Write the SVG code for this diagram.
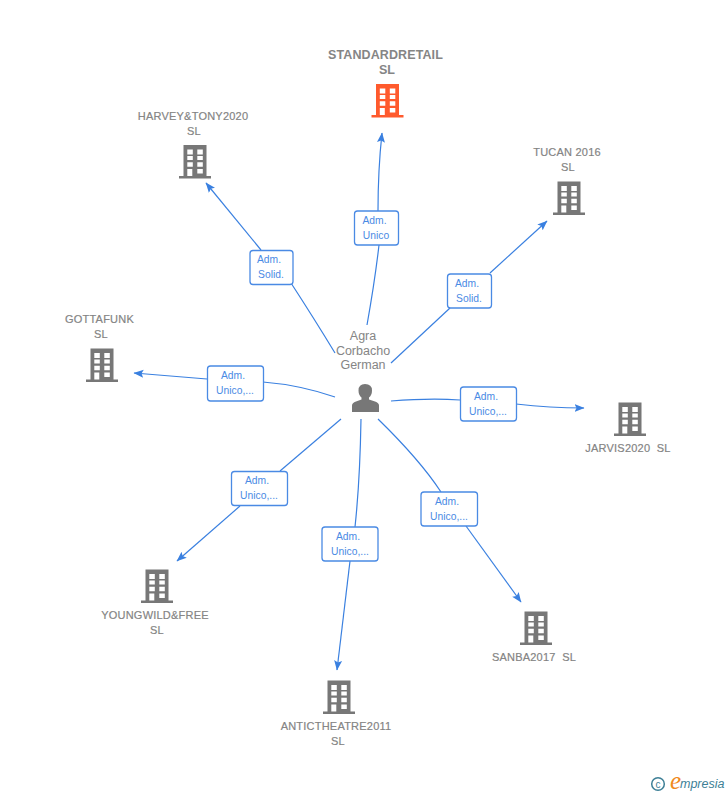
<svg xmlns="http://www.w3.org/2000/svg" width="728" height="795" viewBox="0 0 728 795">
<style>
text{font-family:"Liberation Sans",Arial,sans-serif}
.n{font-size:11px;fill:#808080;stroke:#8f8f8f;stroke-width:.2;letter-spacing:.22px;text-anchor:middle}
.h{font-size:12.500px;font-weight:bold;fill:#858585;letter-spacing:.1px;text-anchor:middle}
.p{font-size:12.500px;fill:#858585;text-anchor:middle}
.l{font-size:10.300px;fill:#4a8ae4;text-anchor:middle}
.b{fill:#fff;stroke:#4a8ae4;stroke-width:1.300}
.c{fill:none;stroke:#3a80e0;stroke-width:1.200}
.e{marker-end:url(#a)}
.w{fill:#fff}
</style>
<defs>
<marker id="a" markerWidth="11" markerHeight="9" refX="9.500" refY="4.500" orient="auto" markerUnits="userSpaceOnUse"><path d="M0 .5L10 4.500L0 8.500L2 4.500Z" fill="#3a80e0"/></marker>
<g id="bld">
<path d="M-11.500-16.500H11.500V14.500H16V17H-16V14.500H-11.500Z"/>
<path class="w" d="M-7.700-12h5.500v5h-5.500zM2.300-12h5.500v5h-5.500zM-7.700-5.500h5.500v4h-5.500zM2.300-5.500h5.500v4h-5.500zM-7.700 .8h5.500v4.400h-5.500zM2.300 .8h5.500v4.400h-5.500zM-7.700 7.500h5v7h-5zM2.300 7.500h5.500v4.500h-5.500z"/>
</g>
</defs>
<g id="connectors">
<path class="c e" d="M367 325Q375 280 379 245M378 211Q378 170 382 133"/>
<path class="c" d="M335 353Q315 320 291 283"/>
<path class="c e" d="M261 250L206 183"/>
<path class="c" d="M391 363L450 308"/>
<path class="c e" d="M490 273L547 221"/>
<path class="c" d="M335 397Q300 385 263 382"/>
<path class="c e" d="M207 379L134 373"/>
<path class="c" d="M391 401Q430 398 460 400"/>
<path class="c e" d="M516 404Q550 408 584 408"/>
<path class="c" d="M341 419L280 471"/>
<path class="c e" d="M240 506L177 561"/>
<path class="c" d="M361 419Q360 480 355 527"/>
<path class="c e" d="M350 561L337 670"/>
<path class="c" d="M378 419Q420 460 441 492"/>
<path class="c e" d="M466 526L521 602"/>
</g>
<g id="n-standardretail"><text class="h" x="385.500" y="59">STANDARDRETAIL</text><text class="h" x="387" y="74">SL</text><use href="#bld" x="387.500" y="100.500" fill="#ff5a2d"/></g>
<g id="n-harvey"><text class="n" x="193" y="120">HARVEY&amp;TONY2020</text><text class="n" x="194" y="135">SL</text><use href="#bld" x="195" y="161.500" fill="#777"/></g>
<g id="n-tucan"><text class="n" x="567" y="156">TUCAN 2016</text><text class="n" x="568" y="171">SL</text><use href="#bld" x="569" y="198" fill="#777"/></g>
<g id="n-gottafunk"><text class="n" x="99.500" y="323">GOTTAFUNK</text><text class="n" x="101" y="338">SL</text><use href="#bld" x="102" y="365" fill="#777"/></g>
<g id="n-jarvis"><use href="#bld" x="630" y="419" fill="#777"/><text class="n" x="628" y="452" xml:space="preserve">JARVIS2020  SL</text></g>
<g id="n-youngwild"><use href="#bld" x="157" y="586" fill="#777"/><text class="n" x="155" y="619">YOUNGWILD&amp;FREE</text><text class="n" x="157" y="634">SL</text></g>
<g id="n-antic"><use href="#bld" x="339" y="697" fill="#777"/><text class="n" x="336" y="730">ANTICTHEATRE2011</text><text class="n" x="338" y="745">SL</text></g>
<g id="n-sanba"><use href="#bld" x="536" y="628" fill="#777"/><text class="n" x="534" y="661" xml:space="preserve">SANBA2017  SL</text></g>
<g id="person"><text class="p" x="363" y="340">Agra</text><text class="p" x="363" y="354.500">Corbacho</text><text class="p" x="363" y="369">German</text>
<path fill="#777" d="M352 412V405.500Q352 403 356 401.500L361.500 399.500V397.500Q358.500 395 358.500 390.500Q358.500 384 365 384Q372 384 372 390.500Q372 395 369 397.500V399.500L375 401.500Q379 403 379 405.500V412Z"/></g>
<g id="l1"><rect class="b" x="354.500" y="211" width="44" height="34" rx="3"/><text class="l" x="374.500" y="224">Adm.</text><text class="l" x="376" y="239">Unico</text></g>
<g id="l2"><rect class="b" x="250" y="250.500" width="43" height="34" rx="3"/><text class="l" x="269" y="263">Adm.</text><text class="l" x="271" y="278">Solid.</text></g>
<g id="l3"><rect class="b" x="447.500" y="274" width="44" height="34" rx="3"/><text class="l" x="467" y="287">Adm.</text><text class="l" x="469" y="302">Solid.</text></g>
<g id="l4"><rect class="b" x="207.500" y="366" width="56" height="35" rx="3"/><text class="l" x="233" y="379">Adm.</text><text class="l" x="235" y="394">Unico,...</text></g>
<g id="l5"><rect class="b" x="460.500" y="387" width="56" height="34" rx="3"/><text class="l" x="486" y="400">Adm.</text><text class="l" x="488" y="415">Unico,...</text></g>
<g id="l6"><rect class="b" x="231.500" y="471.500" width="56" height="34" rx="3"/><text class="l" x="257" y="484">Adm.</text><text class="l" x="259" y="499">Unico,...</text></g>
<g id="l7"><rect class="b" x="322" y="527" width="56" height="34" rx="3"/><text class="l" x="348" y="540">Adm.</text><text class="l" x="350" y="555">Unico,...</text></g>
<g id="l8"><rect class="b" x="421" y="492" width="56.500" height="34" rx="3"/><text class="l" x="447" y="505">Adm.</text><text class="l" x="449" y="520">Unico,...</text></g>
<g id="logo"><circle cx="658" cy="784" r="6.300" fill="none" stroke="#3d7f96" stroke-width="1.500"/><text x="658" y="787.500" font-size="10" fill="#3d7f96" text-anchor="middle">c</text><text x="670" y="789" font-size="25" fill="#f08a1d" font-style="italic" style="font-family:'Liberation Serif',serif">e</text><text x="680" y="788" font-size="12.500" fill="#3d7f96" font-style="italic">mpresia</text></g>
</svg>
